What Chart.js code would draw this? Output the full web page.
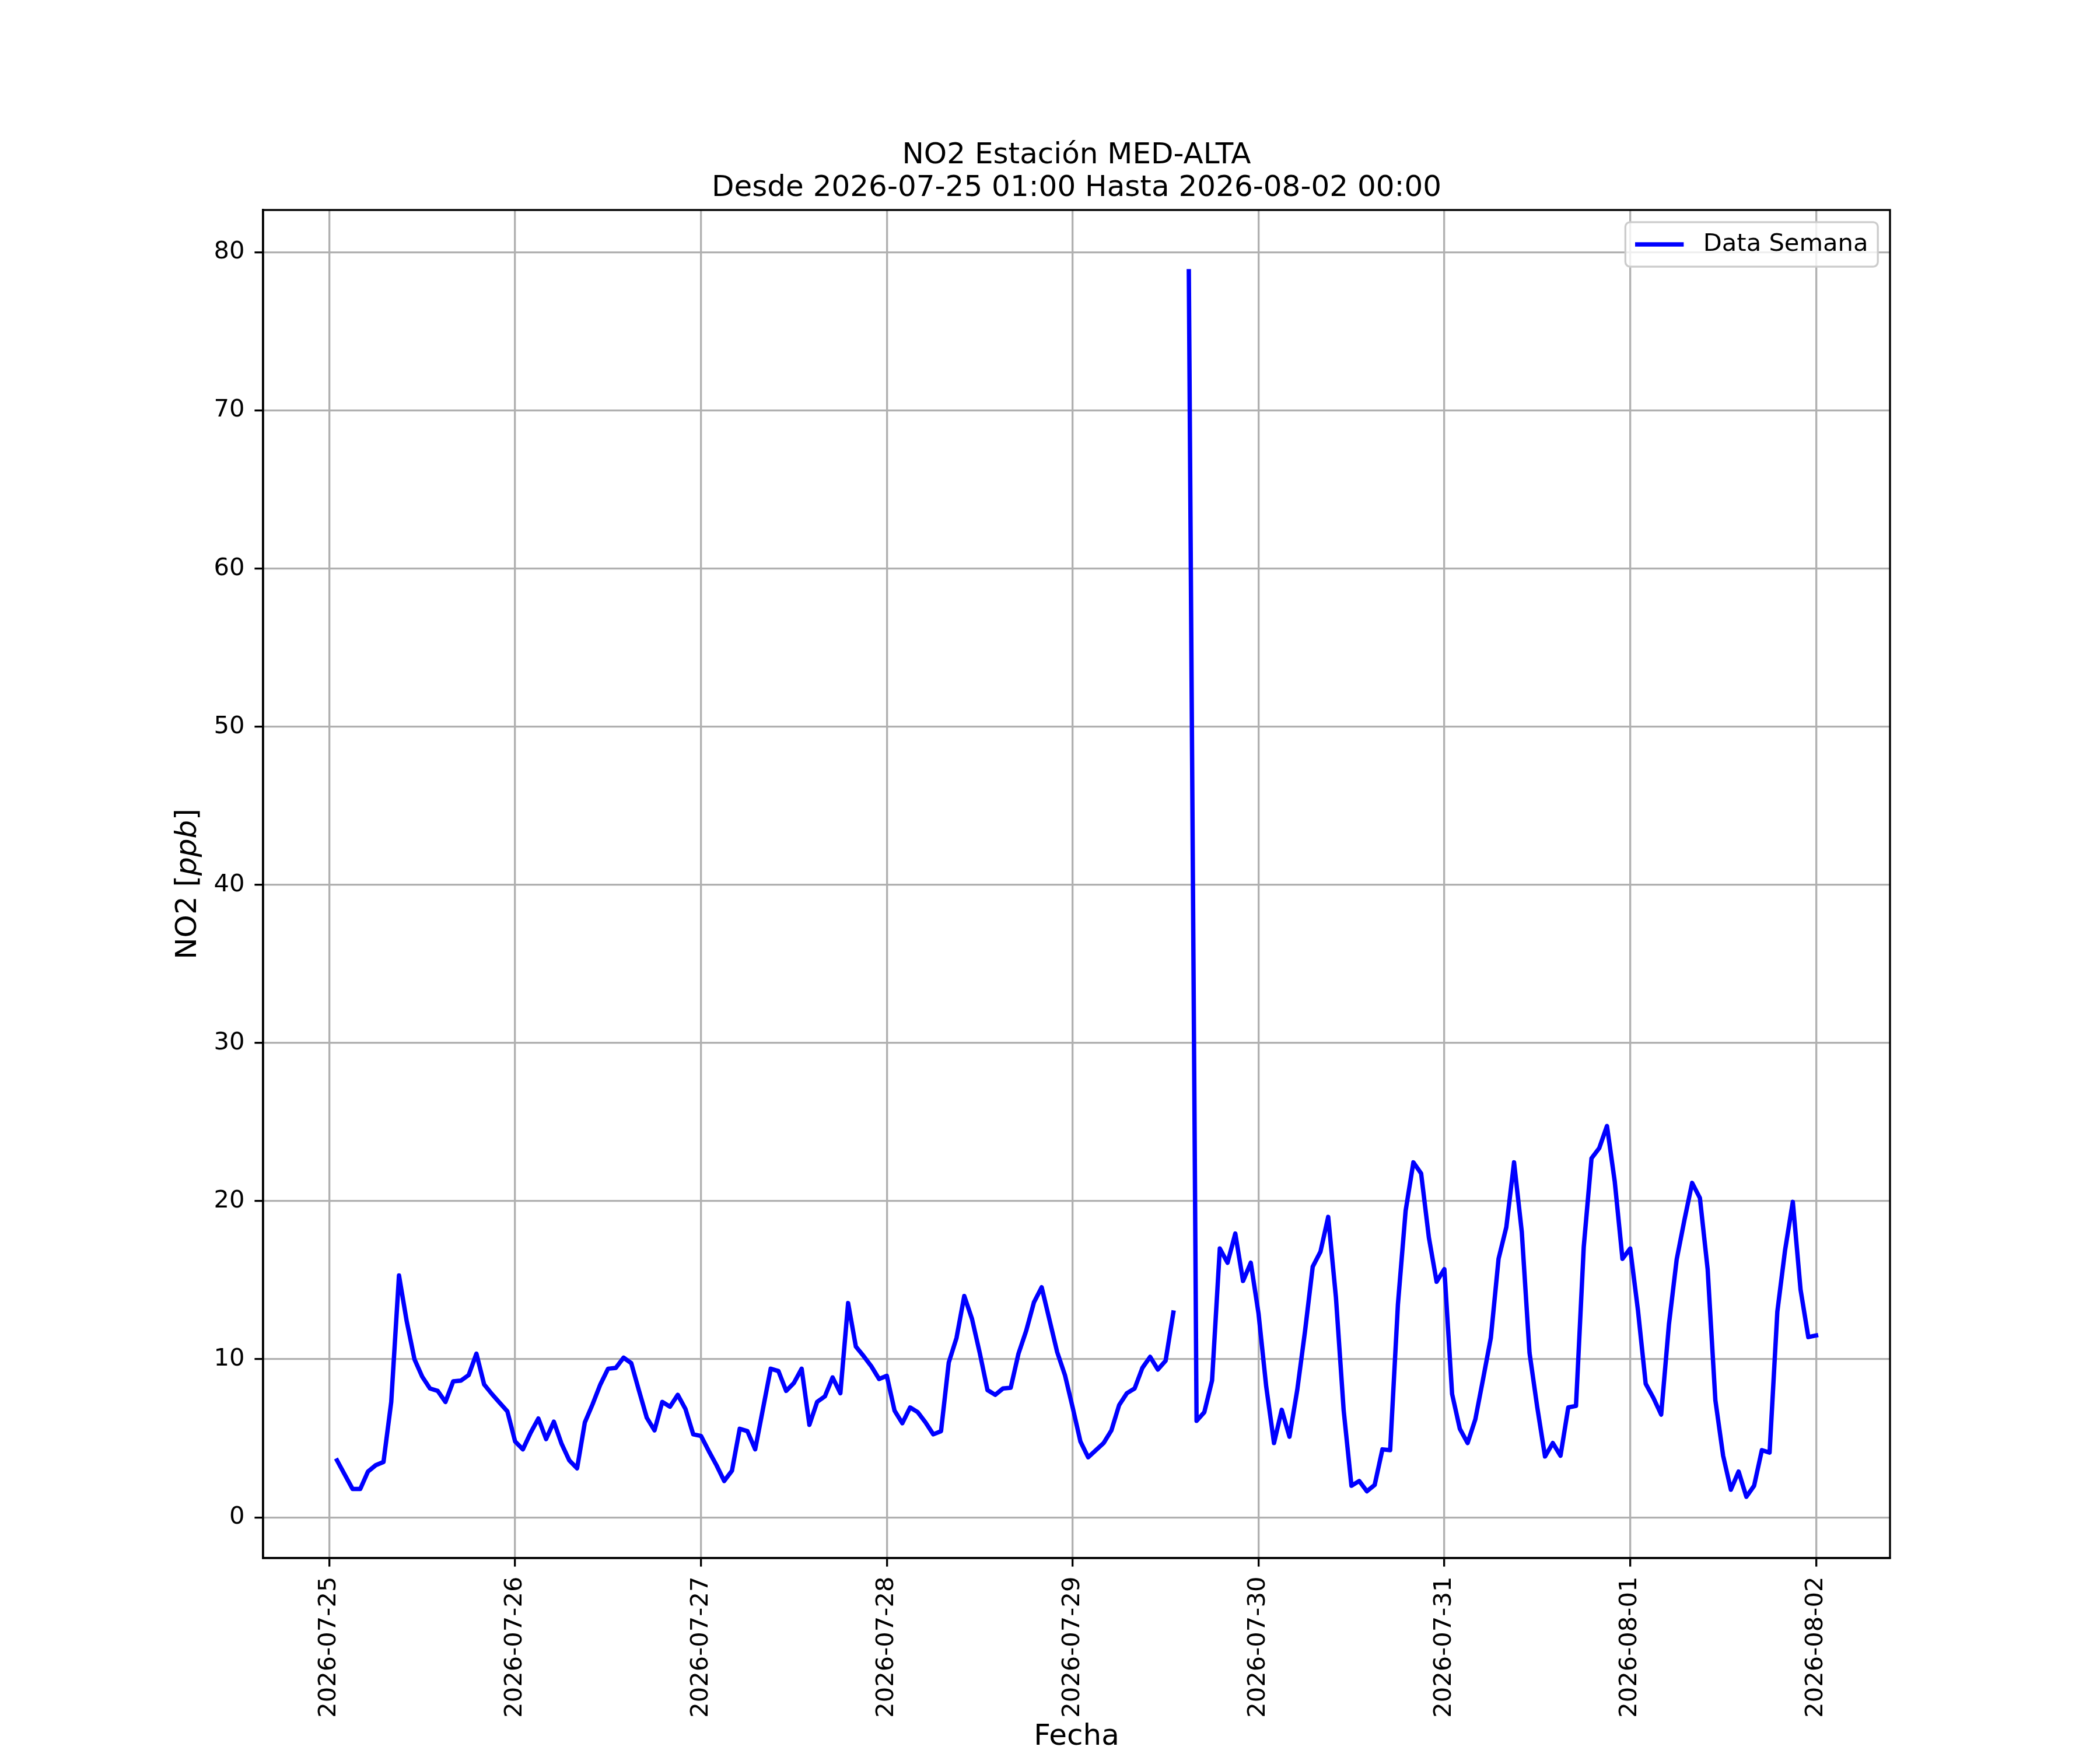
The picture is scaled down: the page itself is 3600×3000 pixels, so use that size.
<!DOCTYPE html>
<html>
<head>
<meta charset="utf-8">
<title>NO2 Estación MED-ALTA</title>
<script src="https://cdn.jsdelivr.net/npm/chart.js@4.4.1/dist/chart.umd.min.js"></script>
<style>
  html, body { margin: 0; padding: 0; background: #fff; }
  canvas { display: block; }
</style>
</head>
<body>
<canvas id="no2Chart" width="3600" height="3000" style="width:3600px;height:3000px"></canvas>
<script>
// hourly NO2 [ppb], one array per calendar day (first value of Jul 25 is 01:00)
const no2Jul25 = [3.6, 2.7, 1.8, 1.8, 2.9, 3.3, 3.5, 7.3, 15.3, 12.4, 10.0, 8.9, 8.15, 8.0, 7.3, 8.6, 8.65, 9.0, 10.35, 8.4, 7.8, 7.25, 6.7];
const no2Jul26 = [4.8, 4.3, 5.35, 6.25, 4.95, 6.05, 4.65, 3.6, 3.1, 6.0, 7.15, 8.4, 9.4, 9.45, 10.1, 9.75, 8.0, 6.3, 5.5, 7.3, 7.0, 7.75, 6.85, 5.25];
const no2Jul27 = [5.15, 4.2, 3.3, 2.3, 2.95, 5.6, 5.45, 4.3, 6.85, 9.4, 9.25, 8.0, 8.5, 9.4, 5.85, 7.3, 7.65, 8.85, 7.85, 13.55, 10.8, 10.2, 9.55, 8.75];
const no2Jul28 = [8.95, 6.75, 5.95, 6.95, 6.65, 6.0, 5.25, 5.45, 9.8, 11.35, 14.0, 12.55, 10.4, 8.05, 7.75, 8.15, 8.2, 10.35, 11.8, 13.6, 14.55, 12.5, 10.45, 9.0];
const no2Jul29 = [6.95, 4.8, 3.8, 4.25, 4.7, 5.5, 7.1, 7.85, 8.15, 9.45, 10.15, 9.35, 9.9, 12.95, null, 78.8, 6.1, 6.65, 8.65, 17.0, 16.1, 17.95, 14.95, 16.1];
const no2Jul30 = [12.9, 8.25, 4.7, 6.8, 5.1, 8.05, 11.75, 15.85, 16.8, 19.0, 13.9, 6.75, 2.0, 2.3, 1.65, 2.05, 4.3, 4.25, 13.45, 19.4, 22.45, 21.75, 17.7, 14.9];
const no2Jul31 = [15.7, 7.8, 5.6, 4.7, 6.2, 8.75, 11.35, 16.35, 18.35, 22.45, 18.05, 10.4, 6.95, 3.85, 4.7, 3.9, 6.95, 7.05, 17.1, 22.7, 23.35, 24.75, 21.25, 16.35];
const no2Aug01 = [17.0, 13.1, 8.45, 7.55, 6.5, 12.2, 16.3, 18.8, 21.15, 20.2, 15.7, 7.4, 3.9, 1.75, 2.9, 1.3, 2.0, 4.25, 4.1, 13.0, 16.9, 19.95, 14.4, 11.4];
const no2Aug02 = [11.5];

const firstHour = 1; // 2026-07-25 01:00, hours counted from 2026-07-25 00:00
const dayLabels = ["2026-07-25", "2026-07-26", "2026-07-27", "2026-07-28", "2026-07-29", "2026-07-30", "2026-07-31", "2026-08-01", "2026-08-02"];
const dayTickHours = [0, 24, 48, 72, 96, 120, 144, 168, 192];
const yTickValues = [0, 10, 20, 30, 40, 50, 60, 70, 80];

const seriesLabel = "Data Semana";
const titleLines = ["NO2 Estación MED-ALTA", "Desde 2026-07-25 01:00 Hasta 2026-08-02 00:00"];

const allValues = [].concat(no2Jul25, no2Jul26, no2Jul27, no2Jul28, no2Jul29, no2Jul30, no2Jul31, no2Aug01, no2Aug02);
const points = allValues.map((v, i) => ({ x: firstHour + i, y: v }));

const FS = 41.67; // 10pt at 300 dpi
const LW = 3.33;  // 0.8pt

Chart.defaults.font.family = '"DejaVu Sans", sans-serif';
Chart.defaults.color = "#000";

const whiteBg = {
  id: "whiteBg",
  beforeDraw(chart) {
    const ctx = chart.ctx;
    ctx.save();
    ctx.fillStyle = "#fff";
    ctx.fillRect(0, 0, chart.width, chart.height);
    ctx.restore();
  }
};

const frame = {
  id: "frame",
  afterDatasetsDraw(chart) {
    const a = chart.chartArea;
    const ctx = chart.ctx;
    ctx.save();
    ctx.strokeStyle = "#000";
    ctx.lineWidth = LW;
    ctx.strokeRect(a.left, a.top, a.right - a.left, a.bottom - a.top);
    ctx.restore();
  }
};

// y label with italic unit, like matplotlib mathtext
const yLabel = {
  id: "yLabel",
  afterDraw(chart) {
    const a = chart.chartArea;
    const ctx = chart.ctx;
    const parts = [["NO2 [", "normal"], ["ppb", "italic"], ["]", "normal"]];
    const size = 50;
    ctx.save();
    ctx.translate(a.left - 115, (a.top + a.bottom) / 2);
    ctx.rotate(-Math.PI / 2);
    ctx.fillStyle = "#000";
    ctx.textBaseline = "alphabetic";
    ctx.textAlign = "left";
    let total = 0;
    parts.forEach(p => {
      ctx.font = p[1] + " " + size + 'px "DejaVu Sans"';
      total += ctx.measureText(p[0]).width;
    });
    let x = -total / 2;
    parts.forEach(p => {
      ctx.font = p[1] + " " + size + 'px "DejaVu Sans"';
      ctx.fillText(p[0], x, 0);
      x += ctx.measureText(p[0]).width;
    });
    ctx.restore();
  }
};

// matplotlib style legend box in the upper right corner
const boxLegend = {
  id: "boxLegend",
  afterDraw(chart) {
    const a = chart.chartArea;
    const ctx = chart.ctx;
    const ds = chart.data.datasets[0];
    ctx.save();
    ctx.font = FS + 'px "DejaVu Sans"';
    const tw = ctx.measureText(ds.label).width;
    const w = 3.6 * FS + tw;
    const h = 1.83 * FS;
    const right = a.right - 0.5 * FS;
    const left = right - w;
    const top = a.top + 0.5 * FS;
    const r = 8;
    ctx.beginPath();
    ctx.moveTo(left + r, top);
    ctx.lineTo(left + w - r, top);
    ctx.arcTo(left + w, top, left + w, top + r, r);
    ctx.lineTo(left + w, top + h - r);
    ctx.arcTo(left + w, top + h, left + w - r, top + h, r);
    ctx.lineTo(left + r, top + h);
    ctx.arcTo(left, top + h, left, top + h - r, r);
    ctx.lineTo(left, top + r);
    ctx.arcTo(left, top, left + r, top, r);
    ctx.closePath();
    ctx.fillStyle = "rgba(255,255,255,0.8)";
    ctx.fill();
    ctx.strokeStyle = "#cccccc";
    ctx.lineWidth = LW;
    ctx.stroke();

    const cy = top + h / 2;
    const hx = left + 0.4 * FS;
    ctx.beginPath();
    ctx.moveTo(hx, cy);
    ctx.lineTo(hx + 2 * FS, cy);
    ctx.strokeStyle = ds.borderColor;
    ctx.lineWidth = ds.borderWidth;
    ctx.lineCap = "butt";
    ctx.stroke();

    ctx.fillStyle = "#000";
    ctx.textBaseline = "middle";
    ctx.textAlign = "left";
    ctx.fillText(ds.label, hx + 2.8 * FS, cy);
    ctx.restore();
  }
};

new Chart(document.getElementById("no2Chart").getContext("2d"), {
  type: "line",
  data: {
    datasets: [
      {
        label: seriesLabel,
        data: points,
        borderColor: "#0000ff",
        borderWidth: 7.5,
        borderJoinStyle: "round",
        borderCapStyle: "square",
        pointRadius: 0,
        pointHoverRadius: 0,
        tension: 0,
        spanGaps: false,
        fill: false
      }
    ]
  },
  options: {
    responsive: false,
    devicePixelRatio: 1,
    animation: false,
    events: [],
    layout: { padding: { top: 0, left: 0, right: 360, bottom: 0 } },
    plugins: {
      legend: { display: false },
      tooltip: { enabled: false },
      title: {
        display: true,
        text: titleLines,
        fullSize: false,
        color: "#000",
        font: { size: 50, weight: "normal", lineHeight: 1.12 },
        padding: { top: 239, bottom: 9 }
      }
    },
    scales: {
      x: {
        type: "linear",
        min: -8.55,
        max: 201.55,
        afterFit(scale) { scale.height = 329; },
        afterBuildTicks(scale) { scale.ticks = dayTickHours.map(v => ({ value: v })); },
        ticks: {
          autoSkip: false,
          minRotation: 90,
          maxRotation: 90,
          padding: 17,
          color: "#000",
          font: { size: FS },
          callback: (value, index) => dayLabels[index]
        },
        grid: {
          color: "#b0b0b0",
          lineWidth: LW,
          tickColor: "#000",
          tickWidth: LW,
          tickLength: 14.6
        },
        border: { display: true, color: "#000", width: LW },
        title: {
          display: true,
          text: "Fecha",
          color: "#000",
          font: { size: 50, lineHeight: 0.88 },
          padding: 0
        }
      },
      y: {
        type: "linear",
        min: -2.575,
        max: 82.675,
        afterFit(scale) { scale.width = 451; },
        afterBuildTicks(scale) { scale.ticks = yTickValues.map(v => ({ value: v })); },
        ticks: {
          padding: 17,
          color: "#000",
          font: { size: FS },
          callback: (value) => String(value)
        },
        grid: {
          color: "#b0b0b0",
          lineWidth: LW,
          tickColor: "#000",
          tickWidth: LW,
          tickLength: 14.6
        },
        border: { display: true, color: "#000", width: LW }
      }
    }
  },
  plugins: [whiteBg, frame, yLabel, boxLegend]
});
</script>
</body>
</html>
